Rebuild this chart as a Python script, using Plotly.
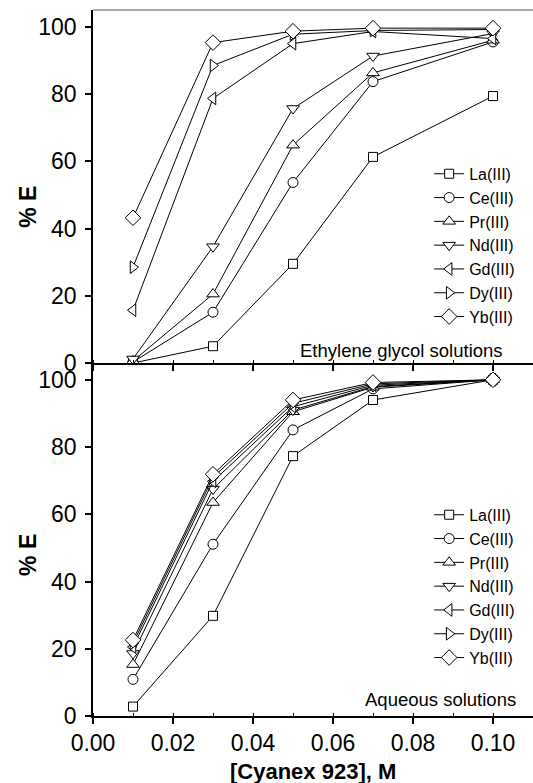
import plotly.graph_objects as go
from plotly.subplots import make_subplots

x_conc = [0.01, 0.03, 0.05, 0.07, 0.10]
metals = ["La(III)", "Ce(III)", "Pr(III)", "Nd(III)", "Gd(III)", "Dy(III)", "Yb(III)"]

eg_La = [0.0, 5.0, 29.5, 61.3, 79.4]
eg_Ce = [0.3, 15.1, 53.7, 83.7, 95.5]
eg_Pr = [0.6, 20.5, 64.8, 86.3, 96.0]
eg_Nd = [1.2, 34.6, 75.7, 91.3, 98.0]
eg_Gd = [15.7, 78.7, 95.0, 98.6, 96.5]
eg_Dy = [28.5, 88.5, 97.8, 98.9, 99.2]
eg_Yb = [43.2, 95.3, 98.7, 99.6, 99.6]

aq_La = [2.8, 29.8, 77.3, 94.0, 100.0]
aq_Ce = [10.9, 51.1, 85.1, 97.3, 100.0]
aq_Pr = [15.3, 63.5, 90.5, 97.8, 100.0]
aq_Nd = [18.6, 67.5, 91.0, 98.0, 100.0]
aq_Gd = [20.5, 69.8, 92.0, 98.4, 100.0]
aq_Dy = [21.6, 71.0, 93.0, 98.8, 100.0]
aq_Yb = [22.6, 71.9, 94.0, 99.2, 100.0]

eg_series = [eg_La, eg_Ce, eg_Pr, eg_Nd, eg_Gd, eg_Dy, eg_Yb]
aq_series = [aq_La, aq_Ce, aq_Pr, aq_Nd, aq_Gd, aq_Dy, aq_Yb]

symbols = ["square", "circle", "triangle-up", "triangle-down", "triangle-left", "triangle-right", "diamond"]
sizes = [9, 10, 11, 11, 11, 11, 12]

FONT = "Liberation Sans, Arial, sans-serif"

fig = make_subplots(rows=2, cols=1, shared_xaxes=False, vertical_spacing=0)

for i, name in enumerate(metals):
    fig.add_trace(go.Scatter(
        x=x_conc, y=eg_series[i], mode="lines+markers", name=name,
        line=dict(color="black", width=1),
        marker=dict(symbol=symbols[i], size=sizes[i], color="white",
                    line=dict(color="black", width=1)),
        legend="legend", legendgroup="eg" + name), row=1, col=1)

for i, name in enumerate(metals):
    fig.add_trace(go.Scatter(
        x=x_conc, y=aq_series[i], mode="lines+markers", name=name,
        line=dict(color="black", width=1),
        marker=dict(symbol=symbols[i], size=sizes[i], color="white",
                    line=dict(color="black", width=1)),
        legend="legend2", legendgroup="aq" + name), row=2, col=1)

xcommon = dict(range=[0, 0.11], dtick=0.02, tick0=0, ticks="outside", ticklen=6, tickwidth=1.5,
               tickcolor="black", showline=True, linecolor="black", linewidth=1.5,
               showgrid=False, zeroline=False,
               minor=dict(ticks="inside", ticklen=3, dtick=0.01, tick0=0, tickcolor="black", tickwidth=1),
               tickfont=dict(family=FONT, size=23, color="black"))
ycommon = dict(range=[0, 105], tickvals=[0, 20, 40, 60, 80, 100], ticks="outside", ticklen=6, tickwidth=1.5,
               tickcolor="black", showline=True, linecolor="black", linewidth=1.5,
               showgrid=False, zeroline=False, ticklabelstandoff=4,
               tickfont=dict(family=FONT, size=23, color="black"))

fig.update_xaxes(**xcommon)
fig.update_xaxes(showticklabels=False, row=1, col=1)
fig.update_xaxes(tickformat=".2f", ticklabelstandoff=0, row=2, col=1)
fig.update_yaxes(**ycommon)

legend_common = dict(font=dict(family=FONT, size=16, color="black"), bgcolor="rgba(0,0,0,0)",
                     borderwidth=0, tracegroupgap=0, xanchor="left", yanchor="top", itemwidth=30)

fig.update_layout(
    width=533, height=783,
    margin=dict(l=93, r=0, t=10, b=67),
    plot_bgcolor="white", paper_bgcolor="white",
    showlegend=True,
    legend=dict(x=0.764, y=0.792, **legend_common),
    legend2=dict(x=0.764, y=0.309, **legend_common),
    shapes=[dict(type="line", xref="paper", yref="paper", x0=0, x1=1, y0=1, y1=1,
                 line=dict(color="#555555", width=1))],
    annotations=[
        dict(text="Ethylene glycol solutions", xref="paper", yref="paper", x=0.936, y=0.518,
             xanchor="right", yanchor="middle", showarrow=False,
             font=dict(family=FONT, size=18.5, color="black")),
        dict(text="Aqueous solutions", xref="paper", yref="paper", x=0.966, y=0.024,
             xanchor="right", yanchor="middle", showarrow=False,
             font=dict(family=FONT, size=18.5, color="black")),
        dict(text="<b>% E</b>", xref="paper", yref="paper", x=-0.148, y=0.721, textangle=-90,
             xanchor="center", yanchor="middle", showarrow=False,
             font=dict(family=FONT, size=23, color="black")),
        dict(text="<b>% E</b>", xref="paper", yref="paper", x=-0.148, y=0.228, textangle=-90,
             xanchor="center", yanchor="middle", showarrow=False,
             font=dict(family=FONT, size=23, color="black")),
        dict(text="<b>[Cyanex 923], M</b>", xref="paper", yref="paper", x=0.5, y=-0.079,
             xanchor="center", yanchor="middle", showarrow=False,
             font=dict(family=FONT, size=22, color="black")),
    ],
)

fig.write_html("out.html")
